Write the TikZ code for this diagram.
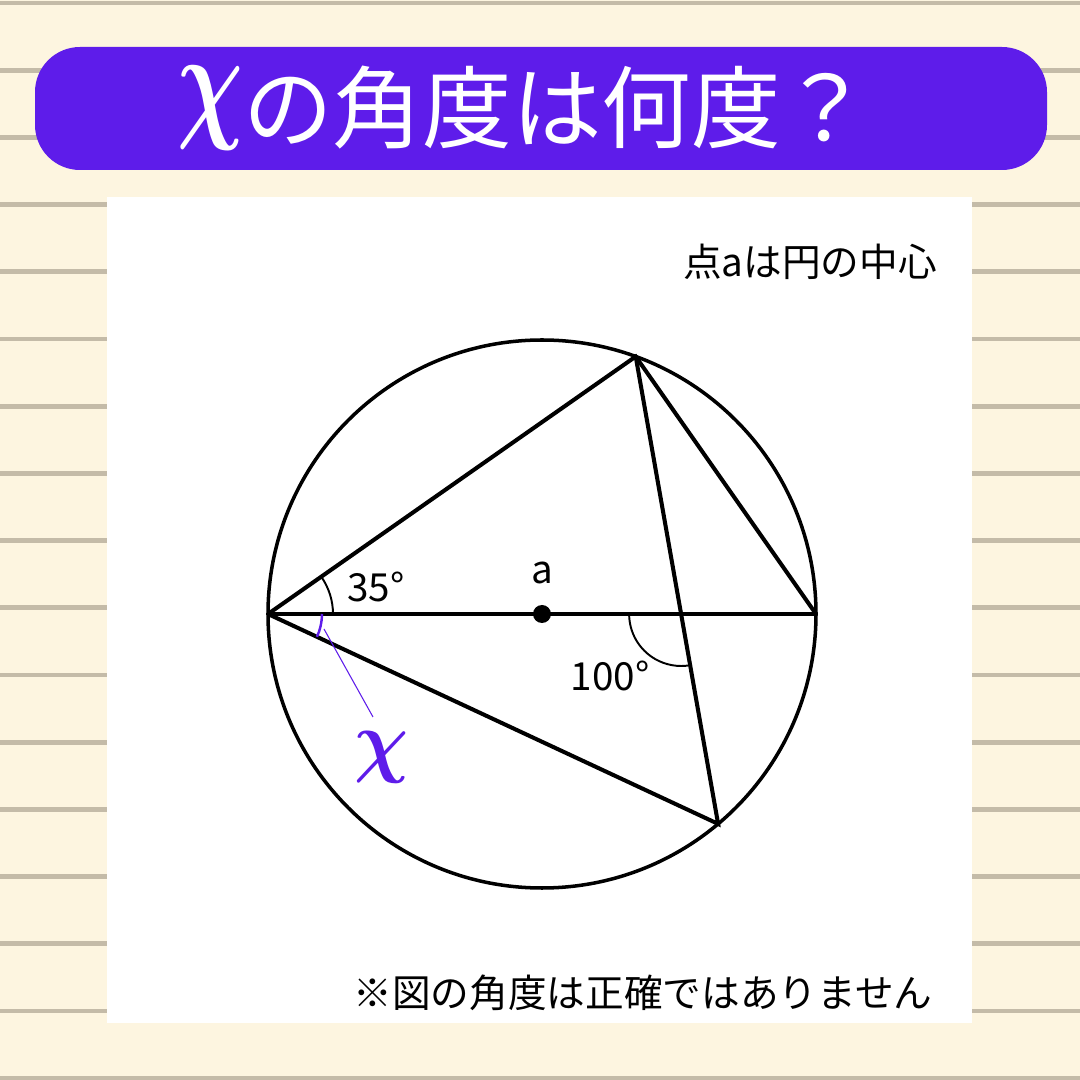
\documentclass[tikz,border=0pt]{standalone}
\usepackage{fontspec}
\usepackage{bm}
\setmainfont{Noto Sans CJK JP}
\usetikzlibrary{calc}
\definecolor{cream}{RGB}{253,245,224}
\definecolor{ruleline}{RGB}{196,187,168}
\definecolor{qpurple}{RGB}{94,28,234}
\begin{document}
\begin{tikzpicture}
[x=0.02cm,y=0.02cm,
 txt/.style={font=\fontsize{22}{26}\selectfont,inner sep=0pt},
 chord/.style={line width=2.3pt},
 anglearc/.style={line width=1.1pt}]
\useasboundingbox[fill=cream] (0,0) rectangle (1080,1080);
\foreach \i in {0,...,16}
  \draw[ruleline,line width=2.8pt] (0,{1077-67.2*\i}) -- (1080,{1077-67.2*\i});
\fill[white] (107,57) rectangle (972,883);
\fill[qpurple,rounded corners=0.9cm] (35,910) rectangle (1047,1033);
\node[text=white,font=\fontsize{51}{60}\selectfont,inner sep=0pt] (title) at (524,972)
  {\raisebox{10pt}{\scalebox{2.1}[3]{$\bm\chi$}}の角度は何度？};

% circle and chords
\coordinate (O) at (542,466);
\coordinate (A) at (268,466);
\coordinate (B) at (816,466);
\coordinate (C) at ($(O)+(70:274)$);
\coordinate (D) at ($(O)+(-50:274)$);
\coordinate (P) at (intersection of A--B and C--D);
\draw[line width=2pt] (O) circle (274);
\draw[chord] (A) -- (B);
\draw[chord] (A) -- (C) -- (B);
\draw[chord] (C) -- (D) -- (A);
\fill (O) circle (9);

% angles
\draw[anglearc] (A) ++(65,0) arc (0:35:65);
\draw[anglearc] (P) ++(-52,0) arc (180:280:52);
\draw[qpurple,line width=1.4pt] (A) ++(54,0) arc (0:-25:54);
\node[txt] (ang35) at (376,493) {35°};
\node[txt] (lbla) at (542,507) {a};
\node[txt] (ang100) at (610,404) {100°};

% x label
\node[text=qpurple,inner sep=0pt] (xlbl) at (382,323) {\scalebox{4.3}[4.6]{$\bm\chi$}};
\coordinate (xtip) at (324,451);
\coordinate (xend) at (373,363);
\draw[qpurple,line width=0.6pt] (xtip) -- (xend);

\node[txt] (note) at (810,818) {点aは円の中心};
\node[txt] (warn) at (643,87) {※図の角度は正確ではありません};
\end{tikzpicture}
\end{document}
